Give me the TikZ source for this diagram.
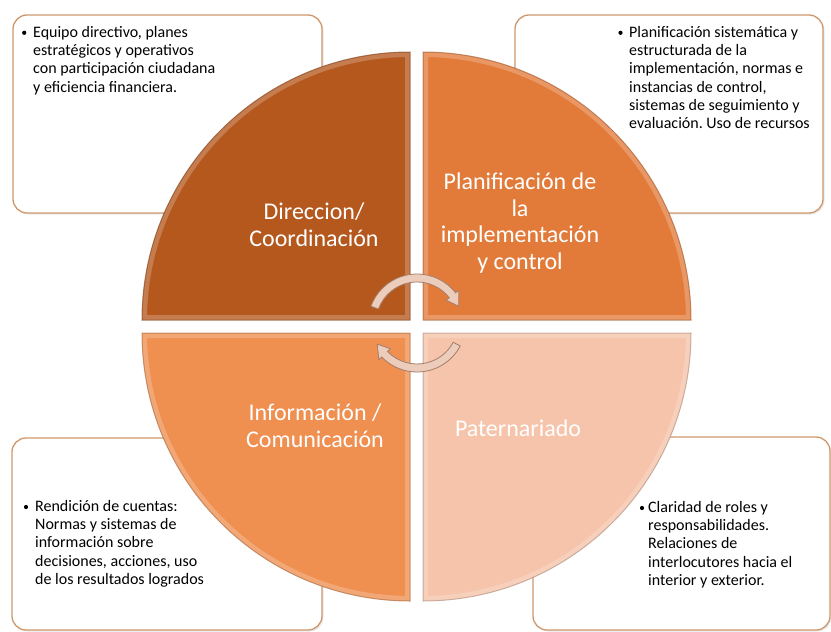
\documentclass[tikz,border=0pt]{standalone}
\usepackage{fontspec}
\setmainfont{Carlito}
\frenchspacing
\usetikzlibrary{shadows,calc}
\definecolor{qtl}{RGB}{181,88,30}
\definecolor{qtr}{RGB}{226,123,58}
\definecolor{qbl}{RGB}{239,143,80}
\definecolor{qbr}{RGB}{246,196,170}
\definecolor{boxedge}{RGB}{206,152,108}
\definecolor{arrowfill}{RGB}{236,205,188}
\definecolor{arrowedge}{RGB}{165,125,105}
\begin{document}
\frenchspacing
\begin{tikzpicture}[x=1pt,y=-1pt,
  infobox/.style={draw=boxedge, line width=1.3pt, fill=white, rounded corners=14pt, inner sep=0pt,
    drop shadow={opacity=0.18, shadow xshift=1.5pt, shadow yshift=-1.5pt}},
  boxtext/.style={anchor=north west, align=left, inner sep=0pt, font=\fontsize{16}{18.3}\selectfont\frenchspacing, text=black},
  bul/.style={circle, fill=black, inner sep=0pt, minimum size=4.2pt},
  qlabel/.style={align=center, text=white, inner sep=0pt, font=\fontsize{24}{26.5}\selectfont},
  cyc/.style={fill=arrowfill, draw=arrowedge, line width=0.8pt},
  rim/.style={line width=10pt, draw=white, opacity=0.22},
  edge/.style={line width=1pt, opacity=0.6}]
\useasboundingbox (0,0) rectangle (831,632);
\fill[white] (0,0) rectangle (831,632);

% info boxes
\node[infobox, minimum width=309pt, minimum height=198pt] (boxTL) at (167.5,114) {};
\node[infobox, minimum width=308pt, minimum height=198pt] (boxTR) at (669,114) {};
\node[infobox, minimum width=310pt, minimum height=192pt] (boxBL) at (167,534) {};
\node[infobox, minimum width=297pt, minimum height=193pt] (boxBR) at (681.5,533.5) {};

% box texts
\node[bul] (bTL) at (24.2,32.8) {};
\node[boxtext] (tTL) at (33,24.1) {\rule{0pt}{13pt}Equipo directivo, planes\\estratégicos y operativos\\con participación ciudadana\\y eficiencia financiera.};
\node[bul] (bTR) at (620.5,32.8) {};
\node[boxtext] (tTR) at (629,24) {\rule{0pt}{13pt}Planificación sistemática y\\estructurada de la\\implementación, normas e\\instancias de control,\\sistemas de seguimiento y\\evaluación. Uso de recursos};
\node[bul] (bBL) at (26,507) {};
\node[boxtext] (tBL) at (35,498) {\rule{0pt}{13pt}Rendición de cuentas:\\Normas y sistemas de\\información sobre\\decisiones, acciones, uso\\de los resultados logrados};
\node[bul] (bBR) at (642,508) {};
\node[boxtext] (tBR) at (648,499) {\rule{0pt}{13pt}Claridad de roles y\\responsabilidades.\\Relaciones de\\interlocutores hacia el\\interior y exterior.};

% quadrants
\fill[qtl] (410,320) -- (142,320) arc[start angle=180, end angle=270, radius=268] -- cycle;
\begin{scope}
\clip (410,320) -- (142,320) arc[start angle=180, end angle=270, radius=268] -- cycle;
\draw[rim] (410,320) -- (142,320) arc[start angle=180, end angle=270, radius=268] -- cycle;
\end{scope}
\draw[edge, draw=qtl!70!black] (410,320) -- (142,320) arc[start angle=180, end angle=270, radius=268] -- cycle;

\fill[qtr] (423,320) -- (423,52) arc[start angle=270, end angle=360, radius=268] -- cycle;
\begin{scope}
\clip (423,320) -- (423,52) arc[start angle=270, end angle=360, radius=268] -- cycle;
\draw[rim] (423,320) -- (423,52) arc[start angle=270, end angle=360, radius=268] -- cycle;
\end{scope}
\draw[edge, draw=qtr!70!black] (423,320) -- (423,52) arc[start angle=270, end angle=360, radius=268] -- cycle;

\fill[qbl] (410,333) -- (410,601) arc[start angle=90, end angle=180, radius=268] -- cycle;
\begin{scope}
\clip (410,333) -- (410,601) arc[start angle=90, end angle=180, radius=268] -- cycle;
\draw[rim] (410,333) -- (410,601) arc[start angle=90, end angle=180, radius=268] -- cycle;
\end{scope}
\draw[edge, draw=qbl!70!black] (410,333) -- (410,601) arc[start angle=90, end angle=180, radius=268] -- cycle;

\fill[qbr] (423,333) -- (691,333) arc[start angle=0, end angle=90, radius=268] -- cycle;
\begin{scope}
\clip (423,333) -- (691,333) arc[start angle=0, end angle=90, radius=268] -- cycle;
\draw[rim] (423,333) -- (691,333) arc[start angle=0, end angle=90, radius=268] -- cycle;
\end{scope}
\draw[edge, draw=qbr!70!black] (423,333) -- (691,333) arc[start angle=0, end angle=90, radius=268] -- cycle;

% labels
\node[qlabel] (lTL) at (314,225) {Direccion/\\Coordinación};
\node[qlabel] (lTR) at (520,223) {Planificación de\\la\\implementación\\y control};
\node[qlabel] (lBL) at (315,426) {Información /\\Comunicación};
\node[qlabel] (lBR) at (518,428) {Paternariado};

% cycle arrows
\coordinate (C) at (417,323);
\draw[cyc] ($(C)+(200:49)$) arc[start angle=200, end angle=322, radius=49]
  -- ($(C)+(322:53)$) -- ($(C)+(338:45)$) -- ($(C)+(322:37)$) -- ($(C)+(322:41)$)
  arc[start angle=322, end angle=200, radius=41] -- cycle;
\draw[cyc] ($(C)+(28:49)$) arc[start angle=28, end angle=136, radius=49]
  -- ($(C)+(136:53)$) -- ($(C)+(152:45)$) -- ($(C)+(136:37)$) -- ($(C)+(136:41)$)
  arc[start angle=136, end angle=28, radius=41] -- cycle;
\end{tikzpicture}
\end{document}
